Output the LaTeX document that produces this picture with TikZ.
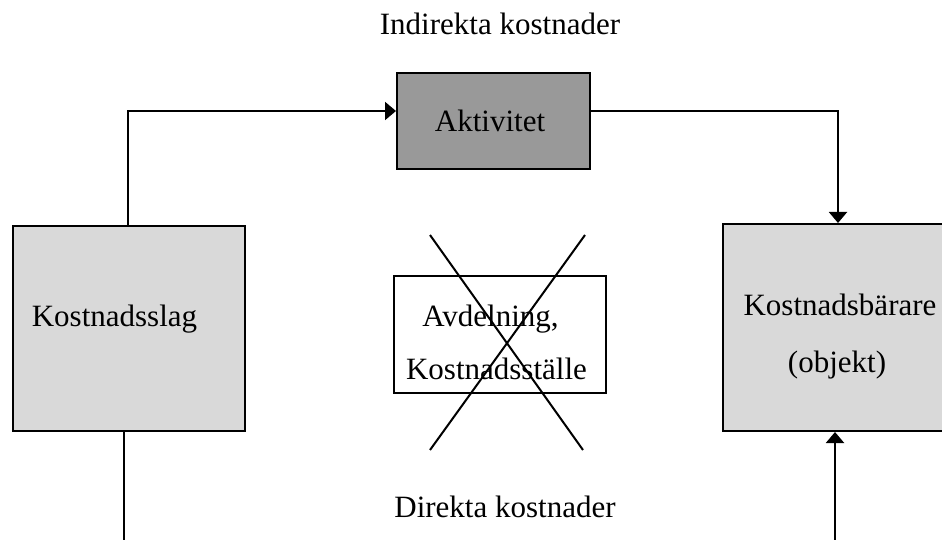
\documentclass[tikz,border=0pt]{standalone}
\usepackage{fontspec}
\setmainfont{Liberation Serif}
\usetikzlibrary{arrows.meta}
\definecolor{boxlight}{HTML}{D9D9D9}
\definecolor{boxdark}{HTML}{999999}
\begin{document}
\begin{tikzpicture}[x=1pt,y=-1pt,
  box/.style={draw=black,line width=2pt,inner sep=0pt,anchor=north west},
  lbl/.style={inner sep=0pt,anchor=base,font=\fontsize{31}{37}\selectfont},
  conn/.style={line width=2pt},
  tip/.style={-{Triangle[length=11pt,width=18pt]}}]
\useasboundingbox (0,0) rectangle (942,540);

% boxes
\node[box,fill=boxdark,minimum width=193pt,minimum height=96pt] (akt) at (396,72) {};
\node[box,fill=boxlight,minimum width=232pt,minimum height=205pt] (slag) at (12,225) {};
\node[box,fill=boxlight,minimum width=240pt,minimum height=207pt] (bar) at (722,223) {};
\node[box,line width=1.6pt,minimum width=212pt,minimum height=117pt] (avd) at (393,275) {};

% labels
\node[lbl] (tind) at (500,35) {Indirekta kostnader};
\node[lbl] (tdir) at (505,517) {Direkta kostnader};
\node[lbl] (takt) at (490,132) {Aktivitet};
\node[lbl] (tslag) at (114.5,326) {Kostnadsslag};
\node[lbl] (tbar1) at (840,315) {Kostnadsbärare};
\node[lbl] (tbar2) at (837,372) {(objekt)};
\node[lbl] (tavd1) at (490.5,326) {Avdelning,};
\node[lbl] (tavd2) at (496.5,379) {Kostnadsställe};

% the cross over the department box
\coordinate (c1) at (430,235);
\coordinate (c2) at (583,450);
\coordinate (c3) at (585,235);
\coordinate (c4) at (430,450);
\draw[conn] (c1) -- (c2);
\draw[conn] (c3) -- (c4);

% indirect path
\coordinate (k1) at (128,111);
\coordinate (k2) at (838,111);
\draw[conn,tip] (slag.north -| k1) -- (k1) -- (akt.west |- k1);
\draw[conn,tip] (akt.east |- k2) -- (k2) -- (bar.north -| k2);

% direct path
\coordinate (d1) at (124,541);
\coordinate (d2) at (835,541);
\draw[conn] (slag.south -| d1) -- (d1);
\draw[conn,tip] (d2) -- (bar.south -| d2);
\end{tikzpicture}
\end{document}
